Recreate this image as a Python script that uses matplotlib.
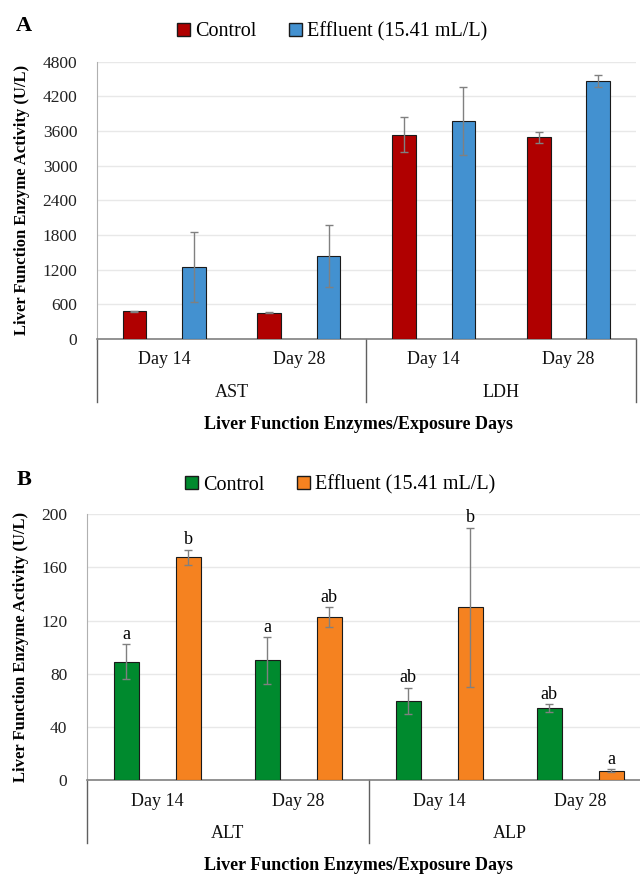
import matplotlib
matplotlib.use('Agg')
import matplotlib.pyplot as plt
from matplotlib.patches import Patch
import numpy as np

plt.rcParams['font.family'] = ['Liberation Serif', 'DejaVu Serif']

# data
days = ['Day 14', 'Day 28']
series = ['Control', 'Effluent (15.41 mL/L)']

enzymes_a = ['AST', 'LDH']
ctrl_a = [480, 455, 3535, 3490]
ctrl_a_err = [10, 8, 300, 100]
eff_a = [1240, 1435, 3775, 4460]
eff_a_err = [605, 535, 590, 105]

enzymes_b = ['ALT', 'ALP']
ctrl_b = [89, 90, 59.5, 54]
ctrl_b_err = [13, 17.5, 10, 3]
eff_b = [167.5, 122.5, 130, 7]
eff_b_err = [6, 7.5, 60, 1]
ctrl_b_letters = ['a', 'a', 'ab', 'ab']
eff_b_letters = ['b', 'ab', 'b', 'a']

W, H = 640, 875
fig = plt.figure(figsize=(W / 100, H / 100), dpi=100)


def px_axes(left, top, right, bottom):
    return fig.add_axes([left / W, 1 - bottom / H, (right - left) / W, (bottom - top) / H])


def draw_panel(ax, ctrl, ctrl_err, eff, eff_err, enzymes, colors, yticks,
               day_y, enz_y, line_y, right_line=True):
    x = np.arange(len(ctrl))
    off, w = 0.22, 0.175
    ekw = dict(ecolor='#808080', elinewidth=1.0, capsize=3, capthick=1.0)
    ax.bar(x - off, ctrl, w, yerr=ctrl_err, color=colors[0], edgecolor='#1a1a1a',
           linewidth=0.8, error_kw=ekw, zorder=3)
    ax.bar(x + off, eff, w, yerr=eff_err, color=colors[1], edgecolor='#1a1a1a',
           linewidth=0.8, error_kw=ekw, zorder=3)
    ax.set_xlim(-0.5, len(ctrl) - 0.5)
    ax.set_ylim(yticks[0], yticks[-1])
    ax.set_yticks(yticks)
    ax.tick_params(axis='y', length=0, labelsize=12.5, labelcolor='#222222', pad=14)
    ax.set_xticks([])
    ax.grid(axis='y', color='#e8e8e8', linewidth=1.0, zorder=0)
    for s in ['top', 'right']:
        ax.spines[s].set_visible(False)
    ax.spines['left'].set_color('#b0b0b0')
    ax.spines['bottom'].set_color('#808080')
    ax.spines['bottom'].set_linewidth(1.2)

    tr = ax.get_xaxis_transform()
    for i in range(len(ctrl)):
        ax.text(i, day_y, days[i % 2], transform=tr, ha='center', va='center',
                fontsize=13, color='#111111')
    for j, name in enumerate(enzymes):
        ax.text(2 * j + 0.5, enz_y, name, transform=tr, ha='center', va='center',
                fontsize=13, color='#111111')
    bounds = [-0.5, 1.5] + ([3.5] if right_line else [])
    for b in bounds:
        ax.plot([b, b], [0, line_y], transform=tr, color='#606060', lw=1.0,
                clip_on=False)
    return x, off


# Panel A
axA = px_axes(96.7, 61.7, 636, 339)
draw_panel(axA, ctrl_a, ctrl_a_err, eff_a, eff_a_err, enzymes_a,
           ['#B00000', '#4391D0'], np.arange(0, 4801, 600),
           -0.0757, -0.194, -0.226)
axA.set_ylabel('Liver Function Enzyme Activity (U/L)', fontsize=12,
               fontweight='bold', labelpad=9)
fig.text(24 / W, 1 - 26 / H, 'A', fontsize=16, fontweight='bold', ha='center', va='center')
fig.text(358 / W, 1 - 424 / H, 'Liver Function Enzymes/Exposure Days', fontsize=13,
         fontweight='bold', ha='center', va='center')
fig.legend(handles=[Patch(facecolor='#B00000', edgecolor='#1a1a1a', label=series[0]),
                    Patch(facecolor='#4391D0', edgecolor='#1a1a1a', label=series[1])],
           loc='center', bbox_to_anchor=(332 / W, 1 - 31.7 / H), ncol=2, frameon=False,
           fontsize=14.5, handlelength=0.65, handleheight=0.65, handletextpad=0.25,
           columnspacing=1.6)

# Panel B
axB = px_axes(86.7, 514.3, 650.7, 780)
x, off = draw_panel(axB, ctrl_b, ctrl_b_err, eff_b, eff_b_err, enzymes_b,
                    ['#008A2E', '#F58220'], np.arange(0, 201, 40),
                    -0.0828, -0.2, -0.236, right_line=False)
axB.set_ylabel('Liver Function Enzyme Activity (U/L)', fontsize=12,
               fontweight='bold', labelpad=9)
for i in range(len(ctrl_b)):
    axB.annotate(ctrl_b_letters[i], (x[i] - off, ctrl_b[i] + ctrl_b_err[i]),
                 xytext=(0, 1), textcoords='offset points', ha='center', va='bottom',
                 fontsize=13)
    axB.annotate(eff_b_letters[i], (x[i] + off, eff_b[i] + eff_b_err[i]),
                 xytext=(0, 1), textcoords='offset points', ha='center', va='bottom',
                 fontsize=13)
fig.text(24 / W, 1 - 480 / H, 'B', fontsize=16, fontweight='bold', ha='center', va='center')
fig.text(358 / W, 1 - 866 / H, 'Liver Function Enzymes/Exposure Days', fontsize=13,
         fontweight='bold', ha='center', va='center')
fig.legend(handles=[Patch(facecolor='#008A2E', edgecolor='#1a1a1a', label=series[0]),
                    Patch(facecolor='#F58220', edgecolor='#1a1a1a', label=series[1])],
           loc='center', bbox_to_anchor=(340 / W, 1 - 485 / H), ncol=2, frameon=False,
           fontsize=14.5, handlelength=0.65, handleheight=0.65, handletextpad=0.25,
           columnspacing=1.6)

fig.savefig('out.png', dpi=100)
